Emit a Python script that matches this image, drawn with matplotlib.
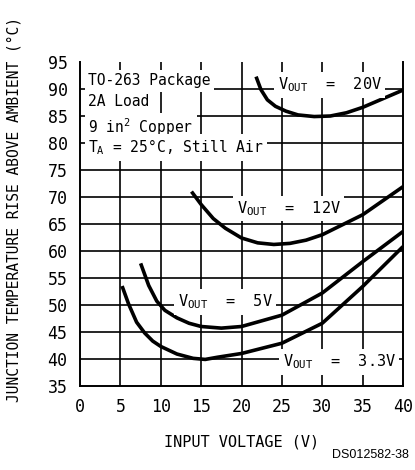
import matplotlib
matplotlib.use("Agg")
import matplotlib.pyplot as plt

plt.rcParams['font.family'] = ['DejaVu Sans Mono']
plt.rcParams['mathtext.fontset'] = 'custom'
plt.rcParams['mathtext.rm'] = 'DejaVu Sans Mono'
plt.rcParams['mathtext.default'] = 'rm'

# curves
vin_33 = [5.2, 6, 7, 8, 9, 10, 12, 14, 15.5, 17, 20, 25, 30, 35, 40]
temp_33 = [53.5, 50.2, 46.8, 44.8, 43.3, 42.3, 40.9, 40.1, 39.9, 40.3, 41.0, 42.9, 46.6, 53.4, 60.8]

vin_5 = [7.5, 8.5, 9.5, 10.5, 12, 13.5, 15, 17.5, 20, 25, 30, 35, 40]
temp_5 = [57.7, 53.6, 50.7, 49.0, 47.6, 46.6, 46.0, 45.7, 46.0, 48.1, 52.2, 58.0, 63.6]

vin_12 = [13.8, 15, 16.5, 18, 20, 22, 24, 26, 28, 30, 35, 40]
temp_12 = [71, 68.6, 66, 64.2, 62.4, 61.5, 61.2, 61.4, 62.0, 63.0, 66.7, 71.9]

vin_20 = [21.8, 22.4, 23.2, 24.2, 25.5, 27, 29, 31, 33, 35, 37.5, 40]
temp_20 = [92.3, 89.9, 88.0, 86.8, 85.9, 85.2, 84.9, 85.0, 85.6, 86.6, 88.2, 89.8]

x_ticks = [0, 5, 10, 15, 20, 25, 30, 35, 40]
y_ticks = [35, 40, 45, 50, 55, 60, 65, 70, 75, 80, 85, 90, 95]

fig = plt.figure(figsize=(4.15, 4.70), dpi=100)
ax = fig.add_axes([0.193, 0.179, 0.778, 0.689])

ax.set_xlim(0, 40)
ax.set_ylim(35, 95)

ax.hlines(y_ticks[1:-1], 0, 40, color='black', lw=1.2, zorder=1)
ax.vlines(x_ticks[1:-1], 35, 95, color='black', lw=1.2, zorder=1)

for x, y in [(vin_33, temp_33), (vin_5, temp_5), (vin_12, temp_12), (vin_20, temp_20)]:
    ax.plot(x, y, color='black', lw=2.6, solid_capstyle='butt', zorder=2)

box = dict(facecolor='white', edgecolor='none', pad=2.5)
fs = 11
ax.text(24.5, 89.9, r'V$_{OUT}$  =  20V', fontsize=fs, ha='left', va='baseline', bbox=box, zorder=3)
ax.text(19.4, 67.0, r'V$_{OUT}$  =  12V', fontsize=fs, ha='left', va='baseline', bbox=box, zorder=3)
ax.text(12.1, 49.7, r'V$_{OUT}$  =  5V', fontsize=fs, ha='left', va='baseline', bbox=box, zorder=3)
ax.text(25.1, 38.6, r'V$_{OUT}$  =  3.3V', fontsize=fs, ha='left', va='baseline', bbox=box, zorder=3)

ax.text(1.0, 90.7, 'TO-263 Package', fontsize=10.5, ha='left', va='baseline', bbox=box, zorder=3)
ax.text(1.0, 86.8, '2A Load', fontsize=10.5, ha='left', va='baseline', bbox=box, zorder=3)
ax.text(1.0, 81.9, r'9 in$^2$ Copper', fontsize=10.5, ha='left', va='baseline', bbox=box, zorder=3)
ax.text(1.0, 78.2, r'T$_A$ = 25°C, Still Air', fontsize=10.5, ha='left', va='baseline', bbox=box, zorder=3)

ax.set_xticks(x_ticks)
ax.set_yticks(y_ticks)
ax.tick_params(axis='x', length=0, labelsize=12, pad=9)
ax.tick_params(axis='y', length=0, labelsize=12, pad=9)
ax.spines['top'].set_visible(False)
for s in ['left', 'right', 'bottom']:
    ax.spines[s].set_linewidth(1.4)

ax.set_xlabel('INPUT VOLTAGE (V)', fontsize=11, labelpad=13)
ax.set_ylabel('JUNCTION TEMPERATURE RISE ABOVE AMBIENT (°C)', fontsize=10.5)
ax.yaxis.set_label_coords(-0.18, 0.545)

fig.text(0.985, 0.02, 'DS012582-38', fontsize=9, ha='right', va='bottom',
         family='Liberation Sans')

fig.savefig('out.png', dpi=100)
